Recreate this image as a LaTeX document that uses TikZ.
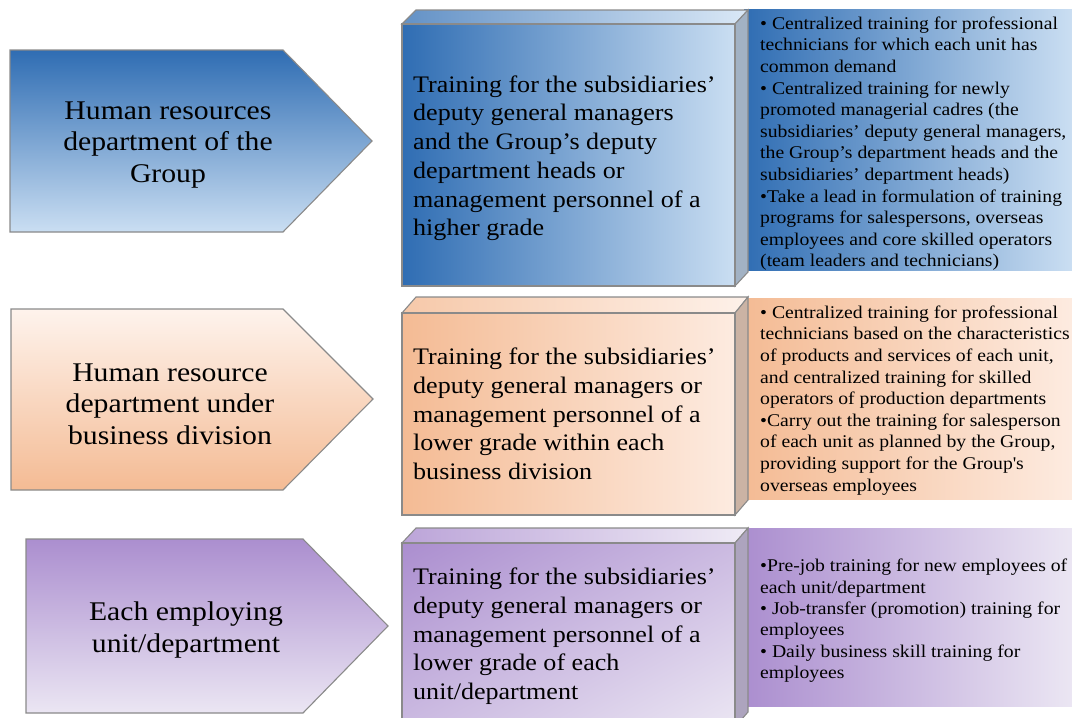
\documentclass[tikz,border=0pt]{standalone}
\usepackage{fontspec}
\usetikzlibrary{shadings}
\setmainfont[FakeStretch=1.1]{Liberation Serif}
\definecolor{blueD}{HTML}{2F6DB3}
\definecolor{blueL}{HTML}{CADEF2}
\definecolor{blueS}{HTML}{A2B2C4}
\definecolor{orD}{HTML}{F4BB94}
\definecolor{orL}{HTML}{FDEBE0}
\definecolor{orS}{HTML}{CBB3A4}
\definecolor{puD}{HTML}{AB8ECF}
\definecolor{puL}{HTML}{EBE6F3}
\definecolor{puS}{HTML}{ADA4BE}
\definecolor{edgec}{HTML}{8A8A8A}
\tikzset{x=1pt,y=-1pt,
  edge/.style={draw=edgec,line width=1.1pt,line join=miter},
  pentxt/.style={align=center,font=\fontsize{27}{31.7}\selectfont,inner sep=0pt},
  cubetxt/.style={align=left,anchor=north west,font=\fontsize{23.7}{28.7}\selectfont,inner sep=0pt},
  paneltxt/.style={align=left,anchor=north west,font=\fontsize{17.9}{21.6}\selectfont,inner sep=0pt}}
\begin{document}
\begin{tikzpicture}
\path[use as bounding box] (0,0) rectangle (1072,718);
\clip (0,0) rectangle (1072,718);

% ---------- row 1 (blue) ----------
\draw[edge,top color=blueD,bottom color=blueL] (10,50) -- (283,50) -- (372,141) -- (283,232) -- (10,232) -- cycle;
\node[pentxt] (p1) at (168,145) {Human resources\\department of the\\Group};

\shade[left color=blueD,right color=blueL] (744,9) rectangle (1072,270);
\node[paneltxt] (t1) at (760,16.5) {• Centralized training for professional\\technicians for which each unit has\\common demand\\• Centralized training for newly\\promoted managerial cadres (the\\subsidiaries’ deputy general managers,\\the Group’s department heads and the\\subsidiaries’ department heads)\\•Take a lead in formulation of training\\programs for salespersons, overseas\\employees and core skilled operators\\(team leaders and technicians)};

\draw[edge,left color=blueD!75!white,right color=blueL!70!white] (402,24) -- (416,10) -- (748,10) -- (735,24) -- cycle;
\draw[edge,fill=blueS] (735,24) -- (748,10) -- (748,272) -- (735,286) -- cycle;
\draw[edge,left color=blueD,right color=blueL] (402,24) rectangle (735,286);
\node[cubetxt] (c1) at (413,75.4) {Training for the subsidiaries’\\deputy general managers\\and the Group’s deputy\\department heads or\\management personnel of a\\higher grade};

% ---------- row 2 (orange) ----------
\draw[edge,top color=orL!60!white,bottom color=orD] (11,309) -- (283,309) -- (373,399) -- (283,490) -- (11,490) -- cycle;
\node[pentxt] (p2) at (170,404) {Human resource\\department under\\business division};

\shade[left color=orD,right color=orL] (744,298) rectangle (1072,499);
\node[paneltxt] (t2) at (760,305.5) {• Centralized training for professional\\technicians based on the characteristics\\of products and services of each unit,\\and centralized training for skilled\\operators of production departments\\•Carry out the training for salesperson\\of each unit as planned by the Group,\\providing support for the Group\textquotesingle s\\overseas employees};

\draw[edge,left color=orD!80!white,right color=orL!70!white] (402,313) -- (416,297) -- (748,297) -- (735,313) -- cycle;
\draw[edge,fill=orS] (735,313) -- (748,297) -- (748,500) -- (735,515) -- cycle;
\draw[edge,left color=orD,right color=orL] (402,313) rectangle (735,515);
\node[cubetxt] (c2) at (413,348) {Training for the subsidiaries’\\deputy general managers or\\management personnel of a\\lower grade within each\\business division};

% ---------- row 3 (purple) ----------
\draw[edge,top color=puD,bottom color=puL] (26,539) -- (303,539) -- (388,626) -- (303,713) -- (26,713) -- cycle;
\node[pentxt] (p3) at (186,630) {Each employing\\unit/department};

\shade[left color=puD,right color=puL] (744,528) rectangle (1072,706);
\node[paneltxt,font=\fontsize{17.9}{21.3}\selectfont] (t3) at (760,559) {•Pre-job training for new employees of\\each unit/department\\• Job-transfer (promotion) training for\\employees\\• Daily business skill training for\\employees};

\draw[edge,left color=puD!80!white,right color=puL!80!white] (402,543) -- (416,528) -- (748,528) -- (735,543) -- cycle;
\draw[edge,fill=puS] (735,543) -- (748,528) -- (748,712) -- (735,727) -- cycle;
\draw[edge,upper left=puD,lower right=puL,upper right=puD!50!puL,lower left=puD!50!puL] (402,543) rectangle (735,727);
\node[cubetxt] (c3) at (413,568) {Training for the subsidiaries’\\deputy general managers or\\management personnel of a\\lower grade of each\\unit/department};
\end{tikzpicture}
\end{document}
